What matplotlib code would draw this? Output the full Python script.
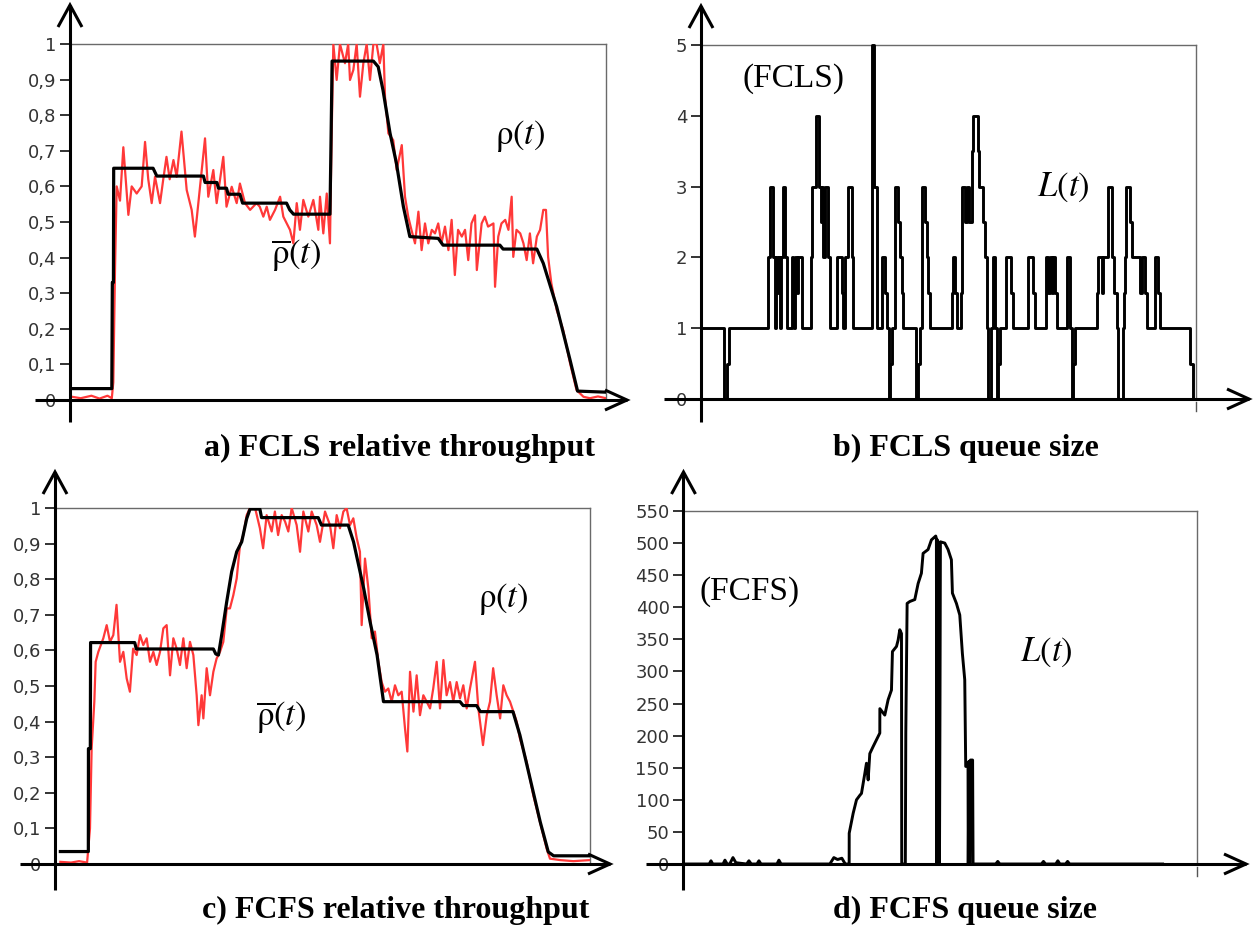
import numpy as np
import matplotlib
matplotlib.use('Agg')
import matplotlib.pyplot as plt

plt.rcParams['mathtext.fontset'] = 'stix'

# ---------------- data ----------------
# panel a: FCLS relative throughput, rho(t) (red) and mean rho(t) (black)
RHO_A = [(0.0, 0.010), (0.02, 0.005), (0.04, 0.012), (0.055, 0.004), (0.07, 0.012), (0.078, 0.005),
         (0.0808, 0.05), (0.084, 0.37), (0.0871, 0.60), (0.0933, 0.56), (0.0995, 0.71), (0.1089, 0.52),
         (0.1151, 0.60), (0.1244, 0.58), (0.1337, 0.60), (0.140, 0.725), (0.146, 0.62), (0.1524, 0.553),
         (0.1586, 0.627), (0.168, 0.553), (0.174, 0.62), (0.180, 0.683), (0.186, 0.62), (0.193, 0.674),
         (0.199, 0.627), (0.208, 0.754), (0.2177, 0.59), (0.227, 0.534), (0.233, 0.459), (0.2425, 0.599),
         (0.2519, 0.735), (0.258, 0.571), (0.2674, 0.646), (0.2736, 0.553), (0.286, 0.683), (0.292, 0.543),
         (0.3017, 0.599), (0.311, 0.553), (0.317, 0.608), (0.3265, 0.553), (0.336, 0.534), (0.348, 0.553),
         (0.354, 0.543), (0.3607, 0.515), (0.367, 0.543), (0.373, 0.506), (0.3825, 0.534), (0.392, 0.571),
         (0.398, 0.515), (0.4104, 0.478), (0.4167, 0.44), (0.423, 0.553), (0.429, 0.478), (0.4353, 0.562),
         (0.4446, 0.515), (0.454, 0.562), (0.4633, 0.478), (0.4664, 0.571), (0.4726, 0.468), (0.479, 0.58),
         (0.485, 0.44), (0.488, 0.73), (0.4913, 1.0), (0.4975, 0.899), (0.5037, 1.0), (0.513, 0.946),
         (0.519, 1.0), (0.5224, 0.899), (0.5286, 0.927), (0.5348, 1.0), (0.541, 0.852), (0.5473, 0.946),
         (0.5535, 1.0), (0.5597, 0.899), (0.566, 1.0), (0.572, 1.0), (0.578, 0.946), (0.5846, 1.0),
         (0.5877, 0.852), (0.594, 0.749), (0.603, 0.73), (0.6095, 0.646), (0.619, 0.716), (0.625, 0.571),
         (0.631, 0.515), (0.637, 0.478), (0.6437, 0.44), (0.65, 0.529), (0.656, 0.421), (0.6623, 0.496),
         (0.6685, 0.44), (0.675, 0.478), (0.681, 0.468), (0.687, 0.496), (0.693, 0.44), (0.6996, 0.487),
         (0.706, 0.421), (0.712, 0.506), (0.718, 0.351), (0.724, 0.478), (0.731, 0.459), (0.737, 0.478),
         (0.743, 0.393), (0.749, 0.496), (0.7556, 0.519), (0.759, 0.365), (0.768, 0.496), (0.774, 0.515),
         (0.78, 0.487), (0.79, 0.496), (0.793, 0.318), (0.799, 0.459), (0.805, 0.496), (0.812, 0.506),
         (0.818, 0.478), (0.824, 0.571), (0.827, 0.402), (0.833, 0.478), (0.840, 0.468), (0.846, 0.44),
         (0.852, 0.393), (0.858, 0.468), (0.864, 0.384), (0.871, 0.459), (0.877, 0.478), (0.883, 0.534),
         (0.888, 0.534), (0.892, 0.402), (0.898, 0.328), (0.908, 0.253), (0.92, 0.197), (0.933, 0.103),
         (0.945, 0.028), (0.958, 0.009), (0.97, 0.005), (0.985, 0.01), (1.0, 0.005)]

MEAN_A = [(0.0, 0.032), (0.078, 0.032), (0.079, 0.33), (0.081, 0.33), (0.0815, 0.651), (0.155, 0.651),
          (0.162, 0.629), (0.249, 0.629), (0.252, 0.611), (0.274, 0.611), (0.277, 0.595), (0.292, 0.595),
          (0.295, 0.578), (0.317, 0.578), (0.322, 0.553), (0.404, 0.553), (0.41, 0.534), (0.417, 0.522),
          (0.485, 0.522), (0.487, 0.73), (0.489, 0.952), (0.566, 0.952), (0.575, 0.936), (0.584, 0.87),
          (0.597, 0.75), (0.609, 0.665), (0.622, 0.543), (0.634, 0.459), (0.687, 0.454), (0.696, 0.435),
          (0.802, 0.435), (0.808, 0.424), (0.871, 0.424), (0.883, 0.384), (0.908, 0.262), (0.933, 0.112),
          (0.947, 0.025), (1.0, 0.022)]

# panel c: FCFS relative throughput
RHO_C = [(0.010, 0.006), (0.03, 0.004), (0.045, 0.008), (0.06, 0.004), (0.0654, 0.10), (0.0685, 0.325),
         (0.0735, 0.456), (0.076, 0.568), (0.081, 0.596), (0.0903, 0.634), (0.0966, 0.671), (0.1028, 0.624),
         (0.109, 0.643), (0.115, 0.728), (0.1215, 0.568), (0.1277, 0.596), (0.134, 0.521), (0.140, 0.484),
         (0.146, 0.605), (0.1526, 0.587), (0.159, 0.643), (0.165, 0.615), (0.1713, 0.634), (0.1776, 0.568),
         (0.1838, 0.596), (0.19, 0.559), (0.1963, 0.596), (0.2025, 0.662), (0.2087, 0.671), (0.215, 0.53),
         (0.2212, 0.634), (0.2274, 0.605), (0.2336, 0.559), (0.2399, 0.634), (0.2461, 0.55), (0.2523, 0.624),
         (0.2586, 0.587), (0.2648, 0.474), (0.268, 0.39), (0.2741, 0.474), (0.2773, 0.409), (0.2835, 0.55),
         (0.2897, 0.474), (0.296, 0.54), (0.302, 0.577), (0.3084, 0.596), (0.3146, 0.624), (0.321, 0.718),
         (0.327, 0.718), (0.3333, 0.755), (0.3396, 0.802), (0.3458, 0.896), (0.352, 0.924), (0.3583, 0.98),
         (0.3645, 1.0), (0.374, 1.0), (0.383, 0.943), (0.389, 0.887), (0.3956, 0.98), (0.405, 0.934),
         (0.411, 0.99), (0.417, 0.924), (0.4237, 0.98), (0.43, 0.962), (0.4361, 0.934), (0.4424, 1.0),
         (0.4517, 0.952), (0.458, 0.877), (0.4642, 0.99), (0.4735, 0.934), (0.4798, 0.99), (0.4891, 0.952),
         (0.4953, 0.905), (0.5047, 0.99), (0.514, 0.952), (0.5202, 0.887), (0.5265, 0.98), (0.5327, 0.943),
         (0.539, 0.99), (0.545, 1.0), (0.5514, 0.952), (0.5576, 0.971), (0.564, 0.915), (0.57, 0.877),
         (0.5732, 0.671), (0.5794, 0.858), (0.5857, 0.774), (0.592, 0.634), (0.598, 0.653), (0.6044, 0.568),
         (0.6106, 0.511), (0.6168, 0.484), (0.623, 0.493), (0.6293, 0.456), (0.6355, 0.502), (0.6417, 0.474),
         (0.648, 0.484), (0.6542, 0.381), (0.6586, 0.316), (0.6636, 0.54), (0.67, 0.428), (0.676, 0.53),
         (0.6822, 0.418), (0.6885, 0.474), (0.6947, 0.456), (0.701, 0.437), (0.707, 0.493), (0.7134, 0.568),
         (0.7196, 0.437), (0.726, 0.573), (0.732, 0.474), (0.7383, 0.511), (0.7445, 0.456), (0.7508, 0.511),
         (0.757, 0.465), (0.7632, 0.502), (0.7695, 0.437), (0.7757, 0.493), (0.785, 0.568), (0.7913, 0.437),
         (0.8, 0.334), (0.807, 0.418), (0.8131, 0.456), (0.819, 0.55), (0.8255, 0.474), (0.832, 0.409),
         (0.838, 0.502), (0.8442, 0.474), (0.8505, 0.456), (0.8567, 0.428), (0.863, 0.40), (0.869, 0.353),
         (0.8816, 0.287), (0.894, 0.193), (0.9065, 0.118), (0.919, 0.043), (0.9252, 0.015), (0.944, 0.011),
         (0.969, 0.008), (1.0, 0.011)]

MEAN_C = [(0.01, 0.035), (0.0623, 0.035), (0.0625, 0.324), (0.0660, 0.324), (0.0665, 0.622), (0.149, 0.622),
          (0.152, 0.604), (0.296, 0.604), (0.3005, 0.59), (0.3055, 0.587), (0.3115, 0.643), (0.321, 0.737),
          (0.3302, 0.821), (0.3396, 0.877), (0.349, 0.905), (0.3583, 0.97), (0.3645, 0.997), (0.383, 0.997),
          (0.386, 0.973), (0.492, 0.973), (0.498, 0.952), (0.548, 0.952), (0.558, 0.905), (0.577, 0.774),
          (0.589, 0.68), (0.602, 0.587), (0.614, 0.456), (0.757, 0.456), (0.763, 0.445), (0.788, 0.445),
          (0.795, 0.428), (0.856, 0.428), (0.869, 0.362), (0.888, 0.24), (0.907, 0.118), (0.922, 0.034),
          (0.932, 0.023), (1.0, 0.023)]

# panel b: FCLS queue size L(t), change points (t, value) held until next point
QUEUE_B = [(0.0, 1), (0.0471, 0), (0.0532, 0.5), (0.0572, 1), (0.136, 2), (0.1394, 3), (0.1448, 2),
           (0.1495, 1), (0.1525, 2), (0.1550, 1.5), (0.1575, 2), (0.1600, 1), (0.1625, 2), (0.165, 3),
           (0.1697, 2), (0.173, 1), (0.183, 2), (0.1865, 1.5), (0.1885, 1), (0.1905, 2), (0.1930, 1.5),
           (0.1950, 2), (0.2034, 1), (0.2216, 2), (0.2236, 3), (0.2323, 4), (0.2391, 3), (0.2420, 2.5),
           (0.2438, 3), (0.2471, 2), (0.2505, 3), (0.2572, 2), (0.2606, 1), (0.2755, 2), (0.2842, 1.5),
           (0.2870, 1), (0.2909, 2), (0.2976, 3), (0.3044, 2), (0.3077, 1), (0.3455, 5), (0.3495, 3),
           (0.3549, 1), (0.365, 2), (0.3717, 1.5), (0.3760, 1), (0.3798, 0), (0.3825, 0.5), (0.3865, 1),
           (0.3920, 3), (0.3986, 2.5), (0.4020, 2), (0.4054, 1.5), (0.4088, 1), (0.4337, 0), (0.4380, 0.5),
           (0.4424, 1), (0.4471, 3), (0.4525, 2.5), (0.4560, 2), (0.4593, 1.5), (0.4626, 1), (0.5064, 1.5),
           (0.5098, 2), (0.5131, 1.5), (0.5165, 1), (0.5250, 1.5), (0.5266, 3), (0.5333, 2.5), (0.5380, 3),
           (0.5421, 2.5), (0.5468, 3.5), (0.5502, 4), (0.5603, 3.5), (0.5623, 3), (0.5704, 2.5), (0.5737, 2),
           (0.5771, 1), (0.5805, 0), (0.5852, 1), (0.5906, 2), (0.594, 1), (0.5973, 0), (0.6010, 0.5),
           (0.6040, 1), (0.6155, 2), (0.6256, 1.5), (0.631, 1), (0.6613, 2), (0.6714, 1.5), (0.6747, 1),
           (0.6970, 2), (0.7020, 1.5), (0.7050, 2), (0.7090, 1.5), (0.7110, 2), (0.7152, 1.5), (0.7185, 1),
           (0.7387, 2), (0.7455, 1), (0.7488, 0), (0.7520, 0.5), (0.7556, 1), (0.7993, 1.5), (0.8030, 2),
           (0.8100, 1.5), (0.8130, 2), (0.8229, 3), (0.8296, 2), (0.8350, 1.5), (0.8400, 1), (0.8431, 0),
           (0.8519, 1), (0.8545, 1.5), (0.8566, 2), (0.8586, 3), (0.8667, 2.5), (0.8700, 2), (0.8869, 1.5),
           (0.8902, 2), (0.8970, 1.5), (0.9003, 1), (0.9172, 2), (0.9239, 1.5), (0.9273, 1), (0.9879, 0.5),
           (0.9946, 0), (1.0, 0)]

# panel d: FCFS queue size L(t)
QUEUE_D = [(0.0, 0), (0.05, 0), (0.0535, 5), (0.057, 0), (0.077, 0), (0.0807, 6), (0.085, 0), (0.09, 0),
           (0.0963, 10), (0.102, 2), (0.123, 0), (0.1274, 5), (0.132, 0), (0.143, 0), (0.1469, 5), (0.151, 0),
           (0.182, 0), (0.1858, 6), (0.19, 0), (0.285, 0), (0.2928, 10), (0.300, 7), (0.3084, 9), (0.315, 0),
           (0.3226, 0), (0.3227, 48), (0.3304, 79), (0.3369, 100), (0.3434, 107), (0.3466, 110), (0.3531, 141),
           (0.3563, 157), (0.3596, 131), (0.3628, 172), (0.3693, 183), (0.3823, 204), (0.3824, 242),
           (0.392, 232), (0.3985, 256), (0.405, 271), (0.4069, 331), (0.4148, 339), (0.418, 349), (0.4212, 365),
           (0.4245, 359), (0.4250, 0), (0.4320, 0), (0.4329, 204), (0.4355, 406), (0.4407, 409), (0.4504, 412),
           (0.4569, 437), (0.4633, 453), (0.4666, 484), (0.4763, 490), (0.4828, 505), (0.4912, 511),
           (0.4925, 507), (0.4932, 0), (0.4945, 505), (0.4958, 0), (0.4972, 500), (0.4985, 0), (0.4995, 250),
           (0.5003, 502), (0.5088, 500), (0.5152, 490), (0.5217, 474), (0.5237, 422), (0.5315, 406),
           (0.538, 388), (0.5431, 328), (0.5477, 287), (0.5496, 152), (0.5541, 152), (0.5545, 0),
           (0.5558, 160), (0.5570, 0), (0.5580, 0), (0.5587, 162), (0.5630, 162), (0.5639, 0), (0.608, 0),
           (0.612, 4), (0.616, 0), (0.697, 0), (0.701, 4), (0.705, 0), (0.725, 0), (0.729, 5), (0.733, 0),
           (0.744, 0), (0.748, 4), (0.752, 0), (0.933, 0)]

RHO_TICKS = [0, 0.1, 0.2, 0.3, 0.4, 0.5, 0.6, 0.7, 0.8, 0.9, 1]
RHO_LABELS = ['0', '0,1', '0,2', '0,3', '0,4', '0,5', '0,6', '0,7', '0,8', '0,9', '1']
QB_TICKS = [0, 1, 2, 3, 4, 5]
QD_TICKS = [0, 50, 100, 150, 200, 250, 300, 350, 400, 450, 500, 550]

CAPTIONS = ['a) FCLS relative throughput', 'b) FCLS queue size',
            'c) FCFS relative throughput', 'd) FCFS queue size']

# ---------------- drawing ----------------
W, H = 1254, 926
fig = plt.figure(figsize=(W / 100, H / 100), dpi=100)

TICK_COL = '#333333'
RED = '#ff3838'


def make_axes(left, right, top, bottom, ymax, ticks, labels,
              x_from, x_tip, y_tip, y_to, end_tick=False):
    ax = fig.add_axes([left / W, 1 - bottom / H, (right - left) / W, (bottom - top) / H])
    w = right - left
    h = bottom - top
    ax.set_xlim(0, 1)
    ax.set_ylim(0, ymax)
    for s in ('left', 'bottom'):
        ax.spines[s].set_visible(False)
    for s in ('top', 'right'):
        ax.spines[s].set_color('#6a6a6a')
        ax.spines[s].set_linewidth(1.0)
    ax.set_xticks([])
    ax.set_yticks(ticks)
    ax.set_yticklabels(labels)
    ax.tick_params(axis='y', direction='out', length=7, width=1.4, color=TICK_COL,
                   labelsize=13, labelcolor=TICK_COL, pad=3)
    kw = dict(transform=ax.transAxes, clip_on=False, color='black', lw=2.2,
              solid_capstyle='butt', solid_joinstyle='miter', zorder=6)
    ax.plot([0, 0], [(bottom - y_to) / h, (bottom - y_tip) / h], **kw)
    ax.plot([(x_from - left) / w, (x_tip - left) / w], [0, 0], **kw)
    yt = (bottom - y_tip) / h
    ax.plot([-12 / w, 0, 12 / w], [yt - 22 / h, yt, yt - 22 / h], **kw)
    xt = (x_tip - left) / w
    ax.plot([xt - 22 / w, xt, xt - 22 / w], [10 / h, 0, -10 / h], **kw)
    if end_tick:
        ax.plot([1, 1], [-3 / h, -12 / h], transform=ax.transAxes, clip_on=False,
                color='#555555', lw=1.0)
    return ax


def unzip(pairs):
    return [p[0] for p in pairs], [p[1] for p in pairs]


# panel a
ax_a = make_axes(70, 606, 44, 400, 1, RHO_TICKS, RHO_LABELS, 35, 627, 5, 422)
t, v = unzip(RHO_A)
ax_a.plot(t, v, color=RED, lw=1.6, zorder=3)
t, v = unzip(MEAN_A)
ax_a.plot(t, v, color='black', lw=2.3, zorder=4)

# panel b
ax_b = make_axes(701, 1196, 45, 399, 5, QB_TICKS, [str(x) for x in QB_TICKS],
                 664, 1249, 6, 422, end_tick=True)
t, v = unzip(QUEUE_B)
ax_b.plot(t, v, color='black', lw=2.1, drawstyle='steps-post', zorder=4, clip_on=False)

# panel c
ax_c = make_axes(55, 590, 508, 864, 1, RHO_TICKS, RHO_LABELS, 20, 610, 472, 890)
t, v = unzip(RHO_C)
ax_c.plot(t, v, color=RED, lw=1.6, zorder=3)
t, v = unzip(MEAN_C)
ax_c.plot(t, v, color='black', lw=2.3, zorder=4)

# panel d
ax_d = make_axes(683.5, 1197, 511, 864, 550, QD_TICKS, [str(x) for x in QD_TICKS],
                 646, 1246, 472, 890, end_tick=True)
t, v = unzip(QUEUE_D)
ax_d.plot(t, v, color='black', lw=2.1, zorder=4)

# annotations
def ftext(x, y, s, **kw):
    fig.text(x / W, 1 - y / H, s, ha='center', va='center', **kw)

ftext(520, 136, r'$\mathrm{\rho}(t)$', fontsize=25)
ftext(296, 255, r'$\overline{\mathrm{\rho}}(t)$', fontsize=25)
ftext(503, 599, r'$\mathrm{\rho}(t)$', fontsize=25)
ftext(281, 717, r'$\overline{\mathrm{\rho}}(t)$', fontsize=25)
ftext(794, 79, '(FCLS)', fontsize=24, fontfamily='Liberation Serif')
ftext(1063, 187, r'$L(t)$', fontsize=25)
ftext(750, 592, '(FCFS)', fontsize=24, fontfamily='Liberation Serif')
ftext(1046, 652, r'$L(t)$', fontsize=25)

cap_pos = [(400, 448), (966, 448), (396, 910), (965, 910)]
for (cx, cy), s in zip(cap_pos, CAPTIONS):
    ftext(cx, cy, s, fontsize=23, fontfamily='Liberation Serif', fontweight='bold')

fig.savefig('out.png', dpi=100)
